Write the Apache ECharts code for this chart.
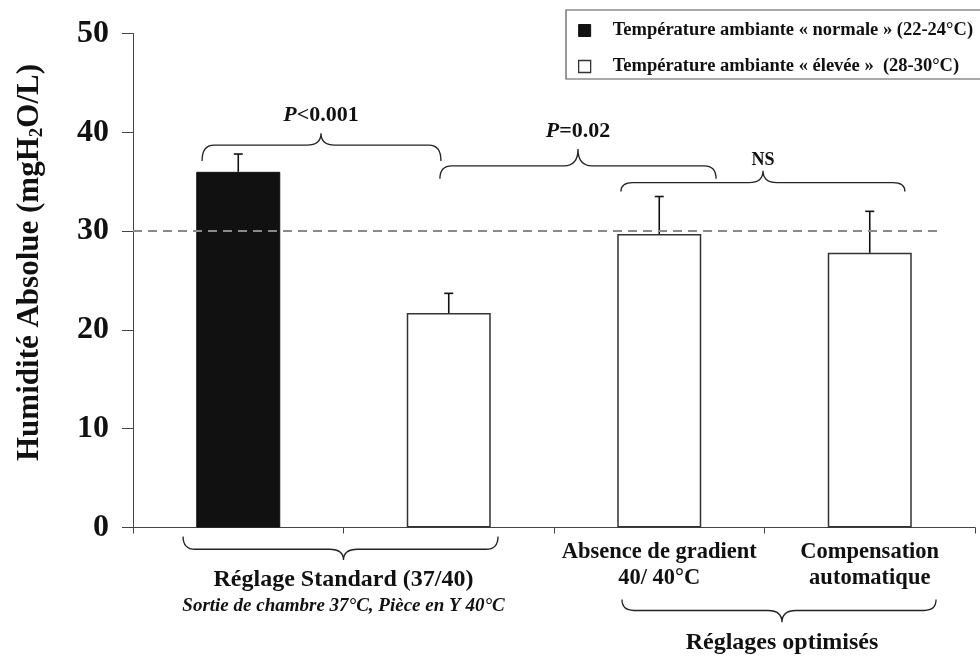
<!DOCTYPE html>
<html>
<head>
<meta charset="utf-8">
<script src="https://cdn.jsdelivr.net/npm/echarts@6/dist/echarts.min.js"></script>
<style>
  html, body { margin: 0; padding: 0; background: #fff; }
  #chart { width: 980px; height: 657px; }
</style>
</head>
<body>
<div id="chart"></div>
<script>
// Absolute humidity (mg H2O / L) per humidifier setting
const categories = [
  'Réglage standard – ambiante normale',
  'Réglage standard – ambiante élevée',
  'Absence de gradient\n40/ 40°C',
  'Compensation\nautomatique'
];
const normalValues   = [36.0, '-', '-', '-'];
const elevatedValues = ['-', 21.7, 29.7, 27.8];
const sdValues       = [1.8, 2.0, 3.8, 4.2];
const yTicks = [0, 10, 20, 30, 40, 50];
const referenceLevel = 30;
const seriesNames = [
  'Température ambiante « normale » (22-24°C)',
  'Température ambiante « élevée »  (28-30°C)'
];
const comparisonLabels = ['P<0.001', 'P=0.02', 'NS'];
const groupLabels = ['Réglage Standard (37/40)', 'Réglages optimisés'];
const groupNote = 'Sortie de chambre 37°C, Pièce en Y 40°C';

const FONT = "'Liberation Serif', 'Times New Roman', serif";
const INK = '#111';

const meanValues = normalValues.map((v, i) => (v === '-' ? elevatedValues[i] : v));
const errorData = meanValues.map((m, i) => [i, m, sdValues[i]]);

// Curly braces, in annotation-axis units (x) and value units (y)
const braces = [
  { x0: 0.328, x1: 1.463, xc: 0.893, yEnd: 37.1, yMid: 38.7, yTip: 39.9 },
  { x0: 1.458, x1: 2.770, xc: 2.114, yEnd: 35.3, yMid: 36.6, yTip: 38.3 },
  { x0: 2.318, x1: 3.667, xc: 2.993, yEnd: 34.0, yMid: 34.9, yTip: 36.1 },
  { x0: 0.238, x1: 1.734, xc: 1.000, yEnd: -0.9, yMid: -2.2, yTip: -3.3 },
  { x0: 2.323, x1: 3.815, xc: 3.083, yEnd: -7.3, yMid: -8.4, yTip: -9.6 }
];

function bracePath(api, b) {
  const a = api.coord([b.x0, b.yEnd]);
  const e = api.coord([b.x1, b.yEnd]);
  const c = api.coord([b.xc, b.yTip]);
  const ym = api.coord([b.xc, b.yMid])[1];
  const r = 12, rt = 14;
  return [
    'M', a[0], a[1],
    'Q', a[0], ym, a[0] + r, ym,
    'L', c[0] - rt, ym,
    'Q', c[0], ym, c[0], c[1],
    'Q', c[0], ym, c[0] + rt, ym,
    'L', e[0] - r, ym,
    'Q', e[0], ym, e[0], e[1]
  ].join(' ');
}

const chart = echarts.init(document.getElementById('chart'), null, { renderer: 'canvas' });

chart.setOption({
  animation: false,
  backgroundColor: '#fff',
  grid: { left: 133, right: 5, top: 33.5, bottom: 129.5, containLabel: false },
  legend: {
    orient: 'vertical',
    left: 566,
    top: 10,
    selectedMode: false,
    backgroundColor: '#fff',
    borderColor: '#555',
    borderWidth: 1.2,
    borderRadius: 0,
    padding: [11, 40, 3, 12],
    itemWidth: 12,
    itemHeight: 12,
    itemGap: 17,
    textStyle: { fontFamily: FONT, fontWeight: 'bold', fontSize: 18.5, color: INK, padding: [0, 0, 0, 17] },
    data: [
      { name: seriesNames[0], icon: 'rect', itemStyle: { color: '#111', borderColor: '#111', borderWidth: 1 } },
      { name: seriesNames[1], icon: 'rect', itemStyle: { color: '#fff', borderColor: '#333', borderWidth: 1.3 } }
    ]
  },
  xAxis: [
    {
      type: 'category',
      data: categories,
      boundaryGap: true,
      axisLine: { show: true, lineStyle: { color: '#444', width: 1 } },
      axisTick: { show: true, alignWithLabel: false, interval: 0, length: 6, lineStyle: { color: '#444' } },
      axisLabel: {
        interval: 0,
        margin: 12,
        color: INK,
        fontFamily: FONT,
        fontWeight: 'bold',
        fontSize: 22.5,
        lineHeight: 26,
        formatter: (v, i) => (i < 2 ? '' : v)
      },
      splitLine: { show: false }
    },
    {
      // continuous axis over the same span, used for annotations
      type: 'value', min: 0, max: 4, show: false
    }
  ],
  yAxis: {
    type: 'value',
    min: yTicks[0],
    max: yTicks[yTicks.length - 1],
    interval: yTicks[1] - yTicks[0],
    axisLine: { show: true, lineStyle: { color: '#444', width: 1 } },
    axisTick: { show: true, length: 11, lineStyle: { color: '#444' } },
    splitLine: { show: false },
    axisLabel: { margin: 24, color: INK, fontFamily: FONT, fontWeight: 'bold', fontSize: 32 },
    name: '{a|Humidité Absolue (mgH}{s|2}{a|O/L)}',
    nameLocation: 'middle',
    nameRotate: 90,
    nameGap: 86,
    nameTextStyle: {
      padding: [0, 0, 0, 36],
      rich: {
        a: { fontFamily: FONT, fontWeight: 'bold', fontSize: 31, color: INK, lineHeight: 34 },
        s: { fontFamily: FONT, fontWeight: 'bold', fontSize: 19, color: INK, lineHeight: 10, verticalAlign: 'bottom' }
      }
    }
  },
  series: [
    {
      name: seriesNames[0],
      type: 'bar',
      data: normalValues,
      barWidth: 84,
      barGap: '-100%',
      itemStyle: { color: '#111', borderColor: '#111', borderWidth: 1 },
      z: 2
    },
    {
      name: seriesNames[1],
      type: 'bar',
      data: elevatedValues,
      barWidth: 84,
      barGap: '-100%',
      itemStyle: { color: '#fff', borderColor: '#333', borderWidth: 1.5 },
      z: 2
    },
    {
      name: 'sd',
      type: 'custom',
      data: errorData,
      encode: { x: 0, y: 1 },
      z: 4,
      renderItem: (params, api) => {
        const idx = api.value(0);
        const m = api.value(1);
        const s = api.value(2);
        const base = api.coord([idx, m]);
        const top = api.coord([idx, m + s]);
        const style = { stroke: '#111', lineWidth: 1.6 };
        return {
          type: 'group',
          children: [
            { type: 'line', shape: { x1: base[0], y1: base[1], x2: top[0], y2: top[1] }, style },
            { type: 'line', shape: { x1: top[0] - 4.5, y1: top[1], x2: top[0] + 4.5, y2: top[1] }, style }
          ]
        };
      }
    },
    {
      name: 'reference',
      type: 'line',
      xAxisIndex: 1,
      data: [[0, referenceLevel], [3.843, referenceLevel]],
      symbol: 'none',
      silent: true,
      lineStyle: { color: '#8a8a8a', width: 2, type: [9, 6] },
      z: 6
    },
    {
      name: 'braces',
      type: 'custom',
      xAxisIndex: 1,
      silent: true,
      clip: false,
      data: braces.map((b, i) => [i]),
      renderItem: (params, api) => ({
        type: 'path',
        shape: { pathData: bracePath(api, braces[params.dataIndex]) },
        style: { fill: 'none', stroke: '#222', lineWidth: 1.3 }
      }),
      z: 3
    }
  ]
});

// Captions, placed in axis coordinates
function px(x, y) {
  return chart.convertToPixel({ xAxisIndex: 1, yAxisIndex: 0 }, [x, y]);
}

function caption(x, y, text, size, extra) {
  const p = px(x, y);
  return {
    type: 'text',
    silent: true,
    x: p[0],
    y: p[1],
    style: Object.assign({
      text,
      align: 'center',
      verticalAlign: 'middle',
      fill: INK,
      fontFamily: FONT,
      fontWeight: 'bold',
      fontSize: size
    }, extra || {})
  };
}

const pRich = {
  i: { fontFamily: FONT, fontWeight: 'bold', fontStyle: 'italic', fontSize: 22, fill: INK },
  n: { fontFamily: FONT, fontWeight: 'bold', fontSize: 22, fill: INK }
};

const graphics = [
  caption(0.893, 41.7, '{i|P}{n|' + comparisonLabels[0].slice(1) + '}', 22, { rich: pRich }),
  caption(2.114, 40.1, '{i|P}{n|' + comparisonLabels[1].slice(1) + '}', 22, { rich: pRich }),
  caption(2.993, 37.2, comparisonLabels[2], 18),
  caption(1.0, -5.3, groupLabels[0], 24),
  caption(1.0, -7.95, groupNote, 19, { fontStyle: 'italic' }),
  caption(3.083, -11.7, groupLabels[1], 24)
];

chart.setOption({ graphic: graphics });
</script>
</body>
</html>
